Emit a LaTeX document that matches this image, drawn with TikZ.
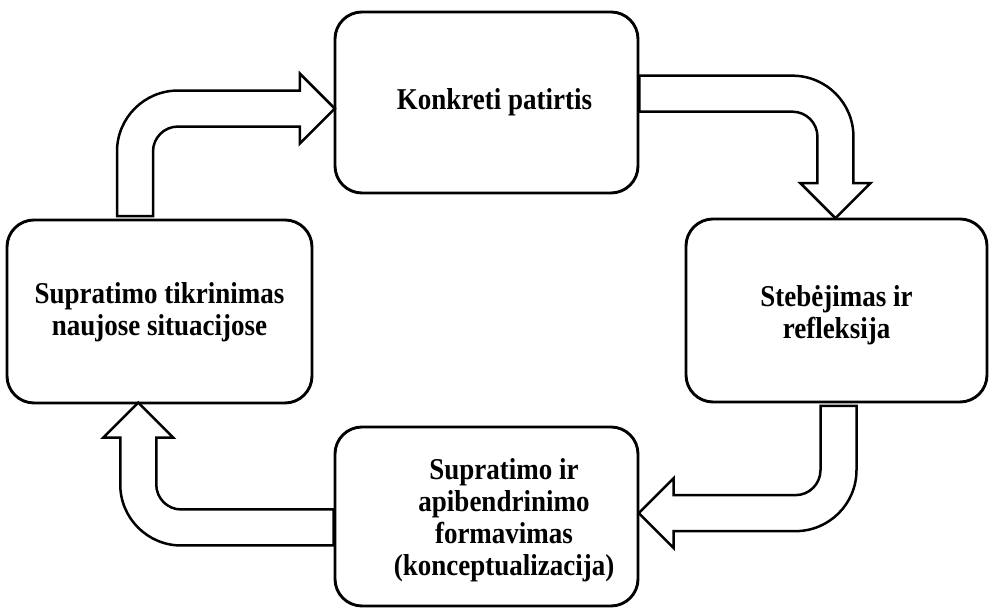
\documentclass[tikz,border=0pt]{standalone}
\usepackage{fontspec}
\setmainfont{Liberation Serif}
\usetikzlibrary{calc}

\tikzset{
  stagebox/.style={draw, line width=2.9pt, rounded corners=27pt, fill=white, inner sep=0pt},
  stagetext/.style={font=\fontsize{27}{28.6}\selectfont\bfseries, align=center, inner sep=0pt,
    yscale=1.12, transform shape},
  bentarrow/.style={draw, line width=2.5pt, fill=white, line join=miter},
}

% geometry of the hollow bent arrows
\def\arrW{18}     % half width of the shaft
\def\arrIn{25}    % inner bend radius
\def\arrOut{61}   % outer bend radius (inner + shaft width)
\def\arrHead{35}  % half width of the head
\def\arrLen{35}   % length of the head

% #1 rotation, #2 base point, #3 first leg (base to bend axis), #4 second leg (bend to tip)
\newcommand\cyclearrow[4]{%
  \begin{scope}[shift={(#2)}, rotate=#1]
    \draw[bentarrow] (-\arrW,0) -- (-\arrW,#3-\arrW-\arrIn)
      arc[start angle=180, end angle=90, radius=\arrOut pt]
      -- (#4-\arrLen,#3+\arrW) -- (#4-\arrLen,#3+\arrHead) -- (#4,#3)
      -- (#4-\arrLen,#3-\arrHead) -- (#4-\arrLen,#3-\arrW)
      -- (\arrW+\arrIn,#3-\arrW)
      arc[start angle=90, end angle=180, radius=\arrIn pt]
      -- (\arrW,0) -- cycle;
  \end{scope}}

\begin{document}
\begin{tikzpicture}[x=1pt, y=1pt]
\useasboundingbox (0,0) rectangle (989,609);

% the four stages
\node[stagebox, minimum width=303pt, minimum height=181pt] (top) at (486.5,506.5) {};
\node[stagebox, minimum width=301pt, minimum height=183pt] (rgt) at (836.5,298.5) {};
\node[stagebox, minimum width=303pt, minimum height=179pt] (bot) at (486.5,92.5) {};
\node[stagebox, minimum width=305pt, minimum height=183pt] (lft) at (159.5,297.5) {};

\node[stagetext] (ttop) at ($(top.center)+(8,0)$) {Konkreti patirtis};
\node[stagetext] (trgt) at ($(rgt.center)+(0,-5)$) {Stebėjimas ir\\refleksija};
\node[stagetext] (tbot) at ($(bot.center)+(17.5,-4)$) {Supratimo ir\\apibendrinimo\\formavimas\\(konceptualizacija)};
\node[stagetext] (tlft) at ($(lft.center)+(0,-1)$) {Supratimo tikrinimas\\naujose situacijose};

% bases of the connecting arrows
\coordinate (b1) at ($(lft.north)+(-24.5,2.5)$);
\coordinate (b2) at ($(top.east)+(0,8.8)$);
\coordinate (b3) at ($(rgt.south)+(2,-2.5)$);
\coordinate (b4) at ($(bot.west)+(0,-11)$);

\cyclearrow{0}{b1}{107.5}{199.8}
\cyclearrow{-90}{b2}{196}{124.5}
\cyclearrow{180}{b3}{107.2}{199.8}
\cyclearrow{90}{b4}{195.3}{124.8}
\end{tikzpicture}
\end{document}
